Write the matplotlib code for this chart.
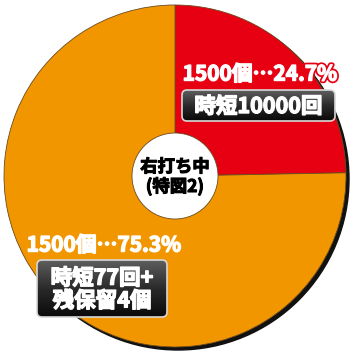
import numpy as np
import matplotlib
matplotlib.use('Agg')
import matplotlib.pyplot as plt
import matplotlib.patheffects as pe
from matplotlib.patches import FancyBboxPatch, Circle

plt.rcParams['font.family'] = ['Noto Sans CJK JP', 'DejaVu Sans']

# data
shares = [24.7, 75.3]
pct_labels = ['1500個…24.7%', '1500個…75.3%']
box_labels = ['時短10000回', '時短77回+\n残保留4個']
colors = ['#E60012', '#F29600']
center_text = '右打ち中\n(特図2)'

W, H = 350, 355
fig = plt.figure(figsize=(W / 100, H / 100), dpi=100)
ax = fig.add_axes([0, 0, 1, 1])

cx, cy, r = 175, 176, 171

# shadow rim
ax.add_patch(Circle((cx + 3, cy + 3), r, color='#111111', zorder=0))

wedges, _ = ax.pie(shares, colors=colors, startangle=90, counterclock=False,
                   center=(cx, cy), radius=r, frame=True,
                   wedgeprops=dict(linewidth=0.6, edgecolor='#6a4a20'))
# y axis is inverted, so flip the wedges back
for w in wedges:
    w.set_transform(matplotlib.transforms.Affine2D().scale(1, -1).translate(0, 2 * cy) + ax.transData)
ax.set_aspect('auto')
ax.axis('off')


def fat(lw, col):
    # thicken the glyphs a little, the reference uses a heavy face
    return [pe.Stroke(linewidth=lw, foreground=col), pe.Normal()]


ax.add_patch(Circle((cx, cy), 43, facecolor='white', edgecolor='#6a4a20', lw=0.6, zorder=3))
ax.text(cx, cy + 1, center_text, ha='center', va='center', fontsize=12.5,
        fontweight='bold', color='black', linespacing=1.1, zorder=4,
        path_effects=fat(0.8, 'black'))

grad = np.linspace(0, 1, 64).reshape(-1, 1)
cmap = matplotlib.colors.LinearSegmentedColormap.from_list('g', ['#5e5e5e', '#2a2a2a', '#0a0a0a'])


def label_box(x0, y0, w, h, text, fs):
    box = FancyBboxPatch((x0, y0), w, h, boxstyle='round,pad=0,rounding_size=5',
                         facecolor='none', edgecolor='#d8d8d8', lw=1.2, zorder=6)
    ax.add_patch(box)
    im = ax.imshow(grad, cmap=cmap, extent=(x0, x0 + w, y0 + h, y0), aspect='auto', zorder=5)
    im.set_clip_path(box)
    ax.text(x0 + w / 2, y0 + h / 2 + 1, text, ha='center', va='center', fontsize=fs,
            fontweight='bold', color='white', linespacing=1.1, zorder=7,
            path_effects=fat(1.0, 'white'))


def pct_label(x, y, text, col):
    ax.text(x, y, text, ha='center', va='center', fontsize=15,
            fontweight='bold', color='white', zorder=7,
            path_effects=[pe.Stroke(linewidth=3.5, foreground=col),
                          pe.Stroke(linewidth=1.0, foreground='white'), pe.Normal()])


pct_label(260, 74, pct_labels[0], colors[0])
label_box(182, 90, 153, 31, box_labels[0], 15.5)

pct_label(104, 245, pct_labels[1], colors[1])
label_box(37, 260, 130, 57, box_labels[1], 15.5)

ax.set_xlim(0, W)
ax.set_ylim(H, 0)
fig.savefig('out.png', dpi=100)
